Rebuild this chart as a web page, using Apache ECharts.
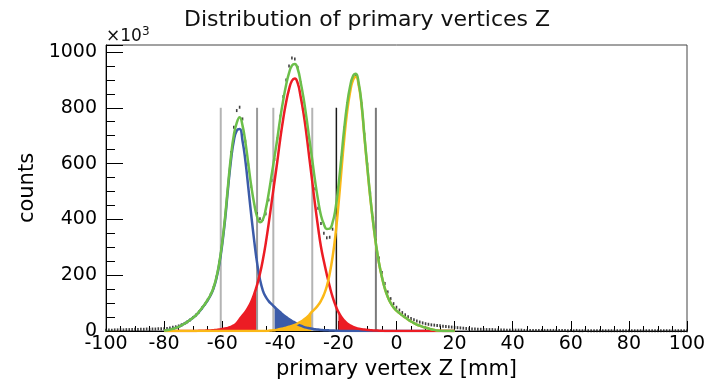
<!DOCTYPE html>
<html><head><meta charset="utf-8">
<script src="https://cdn.jsdelivr.net/npm/echarts@6/dist/echarts.min.js"></script>
<style>html,body{margin:0;padding:0;background:#fff}#c{width:716px;height:379px}</style>
</head><body><div id="c"></div>
<script>
// ---- texts ----
const chartTitle = 'Distribution of primary vertices Z';
const xTitle = 'primary vertex Z [mm]';
const yTitle = 'counts';
// ---- axes ----
const xTickLabels = [-100, -80, -60, -40, -20, 0, 20, 40, 60, 80, 100];
const yTickLabels = [0, 200, 400, 600, 800, 1000];
const yMax = 1025;
// ---- histogram (1 mm bins, starting at -100 mm), counts x10^3 ----
const dataStartX = -100;
const dataCounts = [
  3,4,3,4,4,5,4,5,5,5,6,5,6,6,7,6,7,7,8,8,
  8,9,11,13,15,18,22,27,33,40,
  48,57,68,82,96,112,131,156,193,246,
  318,412,528,640,730,790,802,760,680,596,
  518,460,420,402,400,420,470,540,615,690,
  770,840,900,950,978,975,945,890,825,750,
  670,590,510,440,385,350,334,336,365,425,
  515,620,728,815,875,908,912,885,815,705,
  598,495,405,325,262,210,170,140,116,98,
  85,75,66,58,51,45,40,36,32,29,
  26,24,22,21,20,19,17,16,15,14,13,
  12,11,10,9,8,7,7,6,6,5, 5,5,5,4,4,4,4,3,3,3,
  3,3,3,2,2,2,2,2,2,2, 2,2,2,2,2,2,2,2,1,2,
  1,2,1,1,2,1,1,1,1,1, 1,1,1,1,1,1,1,1,1,1,
  1,1,1,1,1,1,1,1,1,1, 1,1,1,1,1,1,1,1,1,1
];
// ---- fitted components (1 mm steps, starting at -80 mm) ----
const fitStartX = -80;
const blueFit = [
  1,3,5,8,11,15,20,26,33,40,
  48,57,68,81,95,110,128,152,188,240,
  310,400,510,610,682,718,724,681,608,513,
  415,325,245,185,145,122,107,96,86,76,
  67,58,50,43,36,30,24,19,15,12,
  10,8,6,5,4,3,3,2,2,1,
  1,0,0,0,0,0,0,0,0,0,
  0,0,0,0,0,0,0,0,0,0,
  0,0,0,0,0,0,0,0,0,0,0,
  0,0,0,0,0,0,0,0,0,0
];
const redFit = [
  0,0,0,0,0,0,0,0,0,0,
  0,0,1,1,1,2,2,3,4,5,
  7,9,11,15,20,28,42,55,68,85,
  105,132,165,205,255,315,385,460,535,610,
  690,760,820,866,897,905,888,840,780,705,
  620,535,450,372,302,250,203,160,122,92,
  68,50,37,27,20,15,11,8,6,5,
  4,3,2,2,1,1,0,0,0,0,
  0,0,0,0,0,0,0,0,0,0,0,
  0,0,0,0,0,0,0,0,0,0
];
const yellowFit = [
  0,0,0,0,0,0,0,0,0,0,
  0,0,0,0,0,0,0,0,0,0,
  0,0,0,0,0,0,0,0,0,0,
  0,0,0,0,0,0,1,2,3,5,
  7,9,12,15,18,22,27,33,40,48,
  58,70,80,92,108,130,160,205,265,345,
  450,570,688,785,855,898,911,880,805,690,
  580,475,385,305,242,192,152,122,100,84,
  73,64,56,48,41,34,28,23,19,15,12,
  9,6,4,2,1,0,0,0,0,0
];
const totalFit = [
  1,3,5,8,11,15,20,26,33,40,
  48,57,69,82,96,112,130,155,192,245,
  317,409,521,625,702,746,766,736,676,598,
  520,457,410,390,400,437,493,558,624,691,
  764,827,882,924,951,957,939,892,835,765,
  688,613,536,469,414,383,366,367,389,438,
  519,620,725,812,875,913,922,888,811,695,
  584,478,387,307,243,193,152,122,100,84,
  73,64,56,48,41,34,28,23,19,15,12,
  9,6,4,2,1,0,0,0,0,0
];
// ---- cut positions (vertical lines) and shaded windows ----
const cutPositions = [-60.5, -48, -42.4, -29, -20.7, -7.1];
const cutHeight = 800;
const shadedWindows = [
  { fit: 'red', from: -60.5, to: -48 },
  { fit: 'blue', from: -42.4, to: -29 },
  { fit: 'yellow', from: -42.4, to: -29 },
  { fit: 'red', from: -20.7, to: -7.1 }
];

// ---- styles ----
const COL = { blue: '#3b5ba9', red: '#ec1c24', yellow: '#fbb817', green: '#6cbf4a' };
const cutColors = ['#b4b4b4', '#9a9a9a', '#b4b4b4', '#b4b4b4', '#1a1a1a', '#7a7a7a'];
const FONT = 'DejaVu Sans';

const toPairs = (start, arr) => arr.map((v, i) => [start + i, v]);
const fits = { blue: blueFit, red: redFit, yellow: yellowFit };

const series = [];
shadedWindows.forEach(w => {
  const pts = toPairs(fitStartX, fits[w.fit]).filter(p => p[0] >= w.from && p[0] <= w.to);
  series.push({
    type: 'line', data: pts, symbol: 'none', smooth: true, z: 1,
    lineStyle: { width: 0 }, areaStyle: { color: COL[w.fit], opacity: 1 },
    silent: true
  });
});
cutPositions.forEach((c, i) => {
  series.push({
    type: 'line', data: [[c, 0], [c, cutHeight]], symbol: 'none', z: 2,
    lineStyle: { color: cutColors[i], width: i === 4 ? 1.5 : 2 }, silent: true
  });
});
series.push({
  type: 'scatter', data: toPairs(dataStartX, dataCounts), symbol: 'rect',
  symbolSize: [1.6, 3], itemStyle: { color: '#111' }, z: 3, silent: true
});
[['blue', blueFit], ['red', redFit], ['yellow', yellowFit], ['green', totalFit]].forEach(([k, arr]) => {
  series.push({
    type: 'line', data: toPairs(fitStartX, arr), symbol: 'none', smooth: true, z: 4,
    lineStyle: { color: COL[k], width: 2.5 }, silent: true
  });
});

const chart = echarts.init(document.getElementById('c'), null, { renderer: 'canvas' });
chart.setOption({
  animation: false,
  backgroundColor: '#fff',
  title: {
    text: chartTitle, left: 362, top: 4, textAlign: 'center',
    textStyle: { fontFamily: FONT, fontSize: 22, fontWeight: 'normal', color: '#111' }
  },
  graphic: [{
    type: 'text', left: 106, top: 26,
    style: {
      text: '×10{s|3}', fontFamily: FONT, fontSize: 17, fill: '#111',
      rich: { s: { fontFamily: FONT, fontSize: 12, verticalAlign: 'top', padding: [0, 0, 10, 0] } }
    }
  }],
  grid: {
    left: 106, right: 29, top: 45, bottom: 48, containLabel: false, outerBoundsMode: 'none',
    show: true, borderColor: '#444', borderWidth: 1, backgroundColor: 'transparent'
  },
  xAxis: {
    type: 'value', min: xTickLabels[0], max: xTickLabels[xTickLabels.length - 1], interval: 20,
    axisLine: { onZero: false, lineStyle: { color: '#000', width: 1 } },
    axisTick: { inside: true, length: 10, lineStyle: { color: '#000' } },
    minorTick: { show: true, splitNumber: 4, length: 5, lineStyle: { color: '#000' } },
    splitLine: { show: false },
    axisLabel: { fontFamily: FONT, fontSize: 19, color: '#000', margin: 4, formatter: v => String(v) },
    name: xTitle, nameLocation: 'middle', nameGap: 26,
    nameTextStyle: { fontFamily: FONT, fontSize: 21, color: '#000' }
  },
  yAxis: {
    type: 'value', min: yTickLabels[0], max: yMax, interval: 200,
    axisLine: { show: true, onZero: false, lineStyle: { color: '#000', width: 1 } },
    axisTick: { show: true, inside: true, length: 17, lineStyle: { color: '#000' } },
    minorTick: { show: true, splitNumber: 4, length: 9, lineStyle: { color: '#000' } },
    splitLine: { show: false },
    axisLabel: { fontFamily: FONT, fontSize: 19, color: '#000', margin: 9, formatter: v => String(v) },
    name: yTitle, nameLocation: 'middle', nameGap: 52, nameRotate: 90,
    nameTextStyle: { fontFamily: FONT, fontSize: 21, color: '#000' }
  },
  series
});
</script></body></html>
